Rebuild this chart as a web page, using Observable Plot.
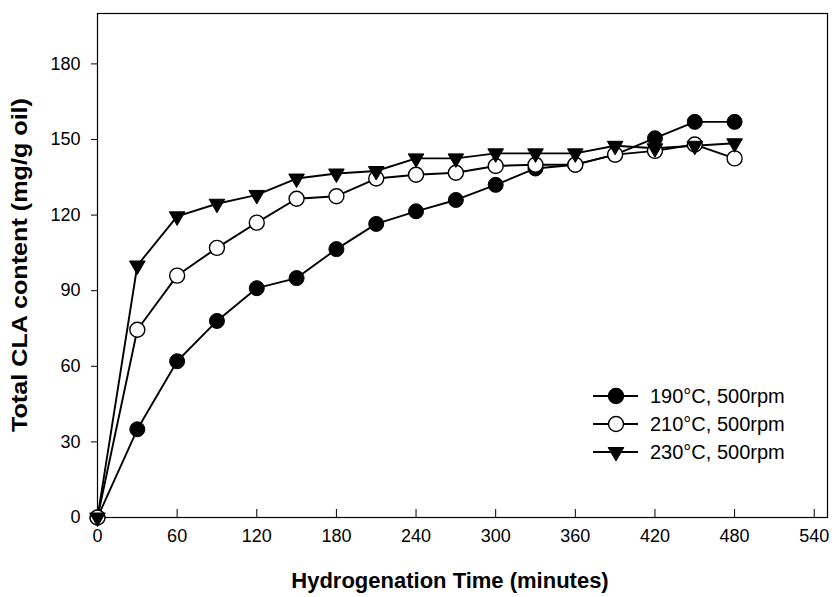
<!DOCTYPE html>
<html><head><meta charset="utf-8">
<script src="https://cdn.jsdelivr.net/npm/d3@7"></script>
<script src="https://cdn.jsdelivr.net/npm/@observablehq/plot@0.6"></script>
<style>
body{margin:0;background:#fff;}
#chart{width:832px;height:597px;}
</style>
</head><body><div id="chart"></div>
<script>
const times = [0, 30, 60, 90, 120, 150, 180, 210, 240, 270, 300, 330, 360, 390, 420, 450, 480];
const cla190 = [0, 35, 62, 78, 91, 95, 106.5, 116.5, 121.5, 126, 132, 138.5, 140, 144, 150.5, 157, 157];
const cla210 = [0, 74.5, 96, 107, 117, 126.5, 127.5, 134.5, 136, 136.8, 139.5, 140, 140, 144, 145.5, 148, 142.5];
const cla230 = [0, 100, 119.5, 124.5, 128, 134.5, 136.5, 137.5, 142.5, 142.5, 144.5, 144.5, 144.5, 147.5, 146.5, 147.5, 148.5];
const seriesNames = ["190\u00B0C, 500rpm", "210\u00B0C, 500rpm", "230\u00B0C, 500rpm"];
const xTicks = [0, 60, 120, 180, 240, 300, 360, 420, 480, 540];
const yTicks = [0, 30, 60, 90, 120, 150, 180];
const xLabel = "Hydrogenation Time (minutes)";
const yLabel = "Total CLA content (mg/g oil)";

const seriesValues = [cla190, cla210, cla230];
const rows = [];
seriesValues.forEach((vals, s) => vals.forEach((v, i) => rows.push({series: seriesNames[s], s, t: times[i], v})));
const bySeries = s => rows.filter(d => d.s === s);

const W = 832, H = 597, mL = 97, mR = 5, mT = 13, mB = 80;
const font = "'Liberation Sans', Arial, sans-serif";

const plot = Plot.plot({
  width: W, height: H,
  marginLeft: mL, marginRight: mR, marginTop: mT, marginBottom: mB,
  style: {fontFamily: font, fontSize: "18px", color: "#000", background: "#fff"},
  x: {domain: [0, 550]},
  y: {domain: [0, 200]},
  marks: [
    Plot.frame({stroke: "#000", strokeWidth: 1.2}),
    Plot.axisY({ticks: yTicks, tickSize: 6, tickPadding: 11, label: null, tickFormat: d => String(d)}),
    Plot.axisX({ticks: xTicks, tickSize: 0, tickPadding: 12, label: null, tickFormat: d => String(d)}),
    Plot.tickX(xTicks, {x: d => d, insetTop: H - mT - mB - 8, stroke: "#000", strokeWidth: 1}),
    Plot.line(rows, {x: "t", y: "v", z: "series", stroke: "#000", strokeWidth: 1.9}),
    Plot.dot(bySeries(0), {x: "t", y: "v", r: 7.5, fill: "#000", stroke: "#000", strokeWidth: 1}),
    Plot.dot(bySeries(1), {x: "t", y: "v", r: 7.5, fill: "#fff", stroke: "#000", strokeWidth: 1.4}),
    Plot.dot(bySeries(2), {x: "t", y: "v", r: 5.8, symbol: "triangle", rotate: 180, fill: "#000", stroke: "#000", strokeWidth: 1})
  ]
});

const svg = d3.select(plot);
svg.selectAll("text").style("font-size", "18px").style("font-family", font);

// axis titles
svg.append("text")
  .attr("x", 450).attr("y", 588)
  .attr("text-anchor", "middle")
  .style("font-family", font).style("font-weight", "bold").style("font-size", "22px")
  .attr("fill", "#000")
  .text(xLabel);
svg.append("text")
  .attr("transform", "translate(27,265) rotate(-90)")
  .attr("text-anchor", "middle")
  .style("font-family", font).style("font-weight", "bold").style("font-size", "22px")
  .attr("textLength", 334).attr("lengthAdjust", "spacingAndGlyphs")
  .attr("fill", "#000")
  .text(yLabel);

// legend
const legX = 593, legY0 = 396, legDy = 28;
const sym = d3.symbol(d3.symbolTriangle, 5.8 * 5.8 * Math.PI)();
seriesNames.forEach((name, s) => {
  const g = svg.append("g").attr("transform", `translate(${legX},${legY0 + s * legDy})`);
  g.append("line").attr("x1", 0).attr("x2", 45).attr("y1", 0).attr("y2", 0).attr("stroke", "#000").attr("stroke-width", 1.8);
  if (s === 2) {
    g.append("path").attr("d", sym).attr("transform", "translate(23,0) rotate(180)").attr("fill", "#000").attr("stroke", "#000");
  } else {
    g.append("circle").attr("cx", 23).attr("cy", 0).attr("r", 7.5)
      .attr("fill", s === 0 ? "#000" : "#fff").attr("stroke", "#000").attr("stroke-width", 1.4);
  }
  g.append("text").attr("x", 57).attr("y", 0).attr("dy", "0.35em")
    .attr("text-anchor", "start")
    .style("font-family", font).style("font-size", "20px").attr("fill", "#000").text(name);
});

document.getElementById("chart").appendChild(plot);
</script>
</body></html>
